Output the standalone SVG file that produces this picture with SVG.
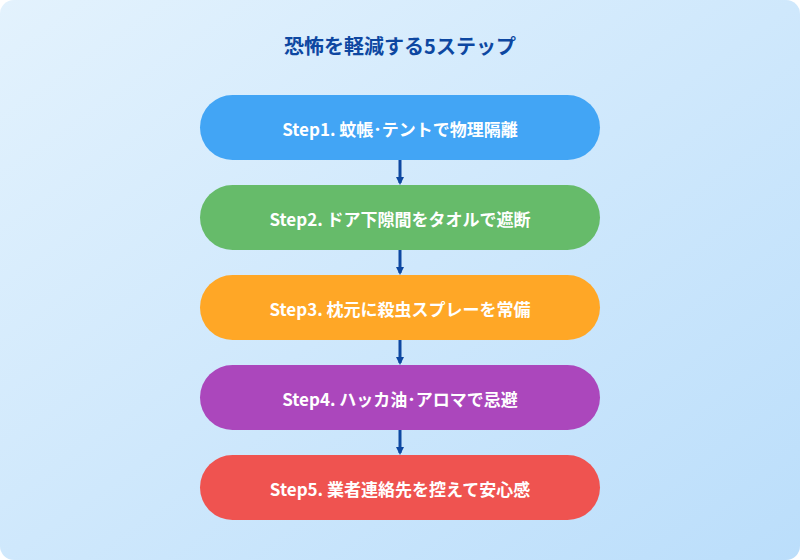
<svg xmlns="http://www.w3.org/2000/svg" width="800" height="560" viewBox="0 0 800 560">
<defs>
<linearGradient id="bg" x1="0" y1="0" x2="1" y2="1"><stop offset="0" stop-color="#e3f2fd"/><stop offset="1" stop-color="#bbdefb"/></linearGradient>
<marker id="ah" markerWidth="8" markerHeight="8" refX="6" refY="4" orient="auto" markerUnits="userSpaceOnUse"><path d="M0,0 L8,4 L0,8 z" fill="#0d47a1"/></marker>
<style>
text{font-family:"Noto Sans CJK JP","Noto Sans",sans-serif;font-weight:bold;text-anchor:middle;dominant-baseline:central}
.t{fill:#fff;font-size:17px}
.c line{stroke:#0d47a1;stroke-width:3;marker-end:url(#ah)}
</style>
</defs>
<rect width="800" height="560" rx="14" fill="url(#bg)"/>
<text x="400" y="45" font-size="20" fill="#0d47a1">恐怖を軽減する5ステップ</text>
<g class="c">
<line x1="400" y1="160" x2="400" y2="183"/>
<line x1="400" y1="250" x2="400" y2="273"/>
<line x1="400" y1="340" x2="400" y2="363"/>
<line x1="400" y1="430" x2="400" y2="453"/>
</g>
<g id="s1"><rect x="200" y="95" width="400" height="65" rx="32.5" fill="#42a5f5"/><text class="t" x="400" y="128">Step1. 蚊帳･テントで物理隔離</text></g>
<g id="s2"><rect x="200" y="185" width="400" height="65" rx="32.5" fill="#66bb6a"/><text class="t" x="400" y="218">Step2. ドア下隙間をタオルで遮断</text></g>
<g id="s3"><rect x="200" y="275" width="400" height="65" rx="32.5" fill="#ffa726"/><text class="t" x="400" y="308">Step3. 枕元に殺虫スプレーを常備</text></g>
<g id="s4"><rect x="200" y="365" width="400" height="65" rx="32.5" fill="#ab47bc"/><text class="t" x="400" y="398">Step4. ハッカ油･アロマで忌避</text></g>
<g id="s5"><rect x="200" y="455" width="400" height="65" rx="32.5" fill="#ef5350"/><text class="t" x="400" y="488">Step5. 業者連絡先を控えて安心感</text></g>
</svg>
